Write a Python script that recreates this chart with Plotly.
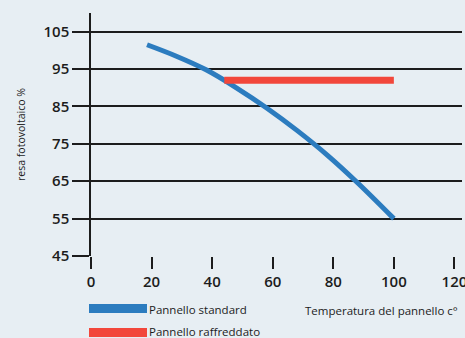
import plotly.graph_objects as go

# Data
temp_standard = [18.5, 28, 38, 48, 58, 68, 78, 88, 100]
resa_standard = [101.5, 98.5, 94.8, 90.0, 84.6, 78.6, 72.0, 64.6, 55.0]
temp_raffreddato = [44, 100]
resa_raffreddato = [92, 92]
x_ticks = [0, 20, 40, 60, 80, 100, 120]
y_ticks = [45, 55, 65, 75, 85, 95, 105]

BG = "#e7eef3"
BLUE = "#2c7cbf"
RED = "#f2473b"
INK = "#1c1c1c"
FONT = "Open Sans"

fig = go.Figure()
fig.add_trace(go.Scatter(x=temp_standard, y=resa_standard, mode="lines",
                         line=dict(color=BLUE, width=5, shape="spline"),
                         name="Pannello standard", showlegend=False))
fig.add_trace(go.Scatter(x=temp_raffreddato, y=resa_raffreddato, mode="lines",
                         line=dict(color=RED, width=7),
                         name="Pannello raffreddato", showlegend=False))

fig.update_layout(
    width=465, height=338,
    margin=dict(l=91, r=3, t=13, b=82),
    paper_bgcolor=BG, plot_bgcolor=BG,
    font=dict(family=FONT, color=INK),
    xaxis=dict(range=[0, 122.5], tickvals=x_ticks, showgrid=False, zeroline=False,
               showline=False, ticks="outside", ticklen=12, tickwidth=1.5,
               tickcolor=INK, tickfont=dict(size=15, family=FONT, color=INK, weight=600),
               automargin=False, ticklabeloverflow="allow"),
    yaxis=dict(range=[45, 110], tickvals=y_ticks, showgrid=True, gridcolor=INK,
               gridwidth=1.5, zeroline=False, showline=True, linecolor=INK,
               linewidth=1.5, ticks="outside", ticklen=17, tickwidth=1.5,
               tickcolor=INK, tickfont=dict(size=15, family=FONT, color=INK, weight=600),
               automargin=False, ticklabeloverflow="allow",
               title=dict(text="resa fotovoltaico %", font=dict(size=10.5, family=FONT, color=INK),
                          standoff=16)),
)

# legend swatches and labels
fig.add_shape(type="rect", xref="paper", yref="paper",
              x0=(89 - 91) / 371, x1=(147 - 91) / 371,
              y0=(256 - 313) / 243, y1=(256 - 304) / 243,
              fillcolor=BLUE, line=dict(width=0))
fig.add_shape(type="rect", xref="paper", yref="paper",
              x0=(89 - 91) / 371, x1=(147 - 91) / 371,
              y0=(256 - 337) / 243, y1=(256 - 328) / 243,
              fillcolor=RED, line=dict(width=0))
fig.add_annotation(text="Pannello standard", xref="paper", yref="paper",
                   x=(147 - 91) / 371, y=(256 - 309) / 243, xanchor="left", yanchor="middle",
                   showarrow=False, font=dict(size=11.5, family=FONT, color=INK))
fig.add_annotation(text="Pannello raffreddato", xref="paper", yref="paper",
                   x=(147 - 91) / 371, y=(256 - 331) / 243, xanchor="left", yanchor="middle",
                   showarrow=False, font=dict(size=11.5, family=FONT, color=INK))
fig.add_annotation(text="Temperatura del pannello c°", xref="paper", yref="paper",
                   x=(303 - 91) / 371, y=(256 - 310) / 243, xanchor="left", yanchor="middle",
                   showarrow=False, font=dict(size=11.5, family=FONT, color=INK))

fig.write_html("out.html", config={"displayModeBar": False},
               post_script="document.body.style.margin='0';document.body.style.background='#e7eef3';")
